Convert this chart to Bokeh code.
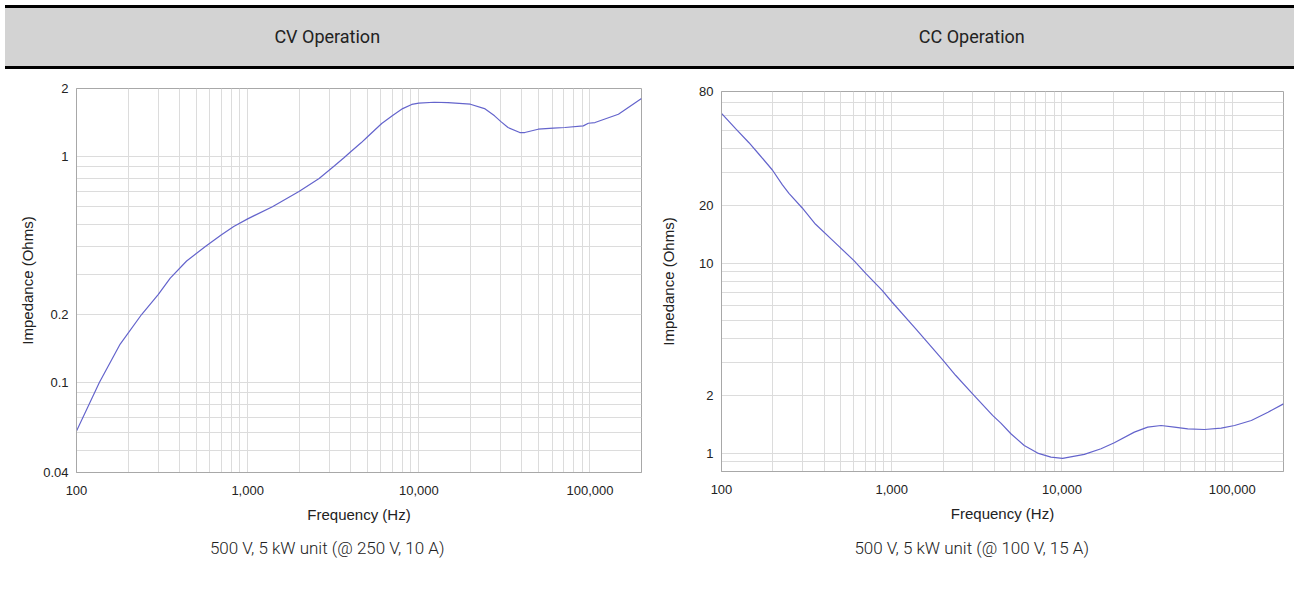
from bokeh.plotting import figure
from bokeh.layouts import column, row
from bokeh.models import Div, FixedTicker, CustomJSTickFormatter, Range1d
from bokeh.embed import file_html
from bokeh.resources import INLINE

# ---------------- data ----------------
titles = ["CV Operation", "CC Operation"]
captions = ["500 V, 5 kW unit (@ 250 V, 10 A)", "500 V, 5 kW unit (@ 100 V, 15 A)"]
x_label = "Frequency (Hz)"
y_label = "Impedance (Ohms)"

cv_freq = [100, 136, 180, 240, 300, 353, 440, 566, 700, 829, 1000, 1395, 1994,
           2615, 3218, 3667, 4000, 4600, 5000, 6070, 7030, 8050, 9090, 10000,
           12300, 14800, 20000, 24200, 27700, 30300, 33200, 38900, 41600, 49800,
           61000, 71400, 91400, 97800, 107000, 146600, 200000]
cv_imp = [0.061, 0.100, 0.148, 0.200, 0.245, 0.290, 0.345, 0.400, 0.450, 0.490,
          0.530, 0.600, 0.700, 0.800, 0.910, 0.990, 1.05, 1.15, 1.22, 1.40,
          1.52, 1.63, 1.70, 1.722, 1.739, 1.733, 1.704, 1.630, 1.514, 1.423,
          1.344, 1.277, 1.277, 1.321, 1.335, 1.344, 1.367, 1.404, 1.414, 1.539,
          1.806]

cc_freq = [100, 121, 145, 166, 199, 228, 249, 298, 357, 448, 600, 703, 881, 1000,
           1384, 1986, 2378, 2984, 3911, 4375, 5010, 6000, 7190, 8610, 10080,
           13530, 16950, 20290, 26600, 31860, 38200, 45700, 54800, 68700, 86100,
           103200, 129400, 162200, 200000]
cc_imp = [61.4, 51.0, 43.0, 37.4, 30.9, 25.8, 23.3, 19.5, 16.0, 13.2, 10.3, 8.83,
          7.16, 6.26, 4.50, 3.10, 2.56, 2.05, 1.58, 1.437, 1.264, 1.097, 1.0,
          0.953, 0.937, 0.984, 1.054, 1.133, 1.289, 1.370, 1.397, 1.370, 1.342,
          1.331, 1.353, 1.397, 1.485, 1.642, 1.816]

x_range = (100, 200000)
x_ticks = [100, 1000, 10000, 100000]
cv_y_range = (0.04, 2)
cv_y_ticks = [0.04, 0.1, 0.2, 1, 2]
cc_y_range = (0.8, 80)
cc_y_ticks = [1, 2, 10, 20, 80]

LINE = "#6464cc"
GRID = "#dcdcdc"
FRAME = "#a8a8a8"
AX_FONT = "Liberation Sans"


def grid_values(lo, hi):
    vals = []
    for e in range(-3, 7):
        for m in range(1, 10):
            v = round(m * 10.0 ** e, 6)
            if lo * 0.999999 <= v <= hi * 1.000001:
                vals.append(v)
    return vals


fmt = CustomJSTickFormatter(code="return tick.toLocaleString('en-US');")


def make_plot(freq, imp, yr, yt, frame_w, frame_h, b_left, b_right, b_top, b_bottom,
              ylab_standoff, margin):
    p = figure(x_axis_type="log", y_axis_type="log", title=None,
               x_range=Range1d(*x_range), y_range=Range1d(*yr),
               frame_width=frame_w, frame_height=frame_h,
               min_border_left=b_left, min_border_right=b_right,
               min_border_top=b_top, min_border_bottom=b_bottom,
               margin=margin,
               output_backend="svg", toolbar_location=None)
    p.line(freq, imp, line_color=LINE, line_width=1.2)
    p.outline_line_color = FRAME
    p.outline_line_width = 1
    for ax in (p.xaxis[0], p.yaxis[0]):
        ax.formatter = fmt
        ax.axis_line_color = FRAME
        ax.major_tick_line_color = None
        ax.minor_tick_line_color = None
        ax.major_tick_out = 0
        ax.major_tick_in = 0
        ax.minor_tick_out = 0
        ax.minor_tick_in = 0
        ax.major_label_text_font = AX_FONT
        ax.major_label_text_font_size = "13px"
        ax.major_label_text_color = "#222222"
        ax.axis_label_text_font = AX_FONT
        ax.axis_label_text_font_size = "15px"
        ax.axis_label_text_font_style = "normal"
        ax.axis_label_text_color = "#222222"
    p.xaxis[0].ticker = FixedTicker(ticks=x_ticks)
    p.yaxis[0].ticker = FixedTicker(ticks=yt)
    p.xaxis[0].axis_label = x_label
    p.yaxis[0].axis_label = y_label
    p.xaxis[0].major_label_standoff = 13
    p.xaxis[0].axis_label_standoff = 8
    p.yaxis[0].major_label_standoff = 8
    p.yaxis[0].axis_label_standoff = ylab_standoff
    p.xgrid[0].ticker = FixedTicker(ticks=grid_values(*x_range))
    p.ygrid[0].ticker = FixedTicker(ticks=grid_values(*yr))
    for g in (p.xgrid[0], p.ygrid[0]):
        g.grid_line_color = GRID
        g.grid_line_width = 1
    return p


p_cv = make_plot(cv_freq, cv_imp, cv_y_range, cv_y_ticks, 565, 384, 76, 16, 19, 45, 4,
                 (0, 0, 0, 0))
p_cc = make_plot(cc_freq, cc_imp, cc_y_range, cc_y_ticks, 562, 380, 64, 3, 19, 46, 19,
                 (3, 0, 0, 0))

cell = "flex:1;display:flex;align-items:center;justify-content:center;"
header = Div(
    text=(f'<div style="display:flex;box-sizing:border-box;width:1289px;height:64px;'
          f'background:#d3d3d3;border-top:3px solid #000;border-bottom:3px solid #000;'
          f'font-family:Roboto;font-size:18px;color:#222;">'
          f'<div style="{cell}">{titles[0]}</div><div style="{cell}">{titles[1]}</div></div>'),
    width=1289, height=64, margin=(5, 0, 0, 5))

caption = Div(
    text=(f'<div style="display:flex;width:1289px;height:46px;font-family:Roboto;'
          f'font-weight:300;font-size:17px;color:#222;">'
          f'<div style="{cell}">{captions[0]}</div><div style="{cell}">{captions[1]}</div></div>'),
    width=1289, height=46, margin=(0, 0, 0, 5))

layout = column(header, row(p_cv, p_cc), caption)

with open("out.html", "w") as f:
    f.write(file_html(layout, INLINE))
